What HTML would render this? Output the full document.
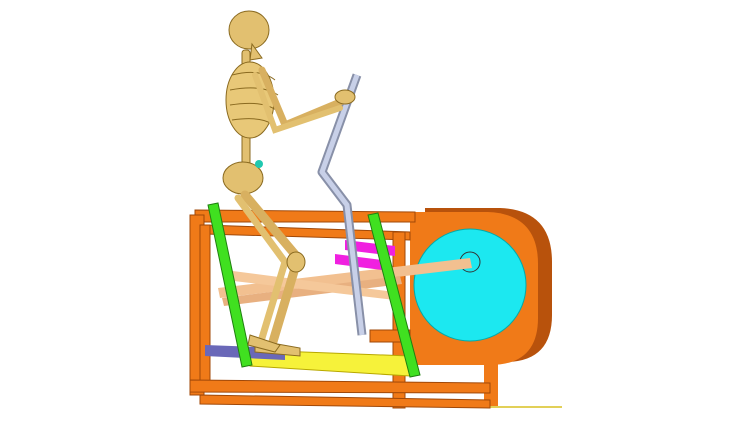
<!DOCTYPE html>
<html><head><meta charset="utf-8"><style>
html,body{margin:0;padding:0;background:#fff;width:730px;height:430px;overflow:hidden}
svg{display:block}
</style></head><body>
<svg width="730" height="430" viewBox="0 0 730 430">
<!-- flywheel housing -->
<g>
<path d="M425 208 L500 208 Q552 210 552 262 L552 315 Q552 362 505 362 L425 362 Z" fill="#b8520c"/>
<path d="M410 212 L488 212 Q538 214 538 264 L538 318 Q538 365 490 365 L410 365 Z" fill="#f07a18"/>
<circle cx="470" cy="285" r="56" fill="#1ce8f0" stroke="#0aa" stroke-width="1"/>
<circle cx="470" cy="262" r="10" fill="none" stroke="#333" stroke-width="1"/>
</g>
<!-- base post -->
<rect x="484" y="360" width="14" height="46" fill="#f07a18"/>
<line x1="490" y1="407" x2="562" y2="407" stroke="#d8c020" stroke-width="1.5"/>
<!-- frame -->
<g fill="#f07a18" stroke="#a04808" stroke-width="1">
<polygon points="195,210 415,212 415,222 195,222"/>
<polygon points="205,225 410,232 410,240 205,234"/>
<rect x="190" y="215" width="14" height="180"/>
<rect x="200" y="225" width="10" height="165"/>
<rect x="393" y="232" width="12" height="176"/>
<polygon points="190,380 490,383 490,393 190,392"/>
<polygon points="200,395 490,400 490,408 200,404"/>
<rect x="370" y="330" width="40" height="12"/>
</g>
<!-- plates -->
<polygon points="250,350 410,356 410,376 250,366" fill="#f6f23a" stroke="#b8a800"/>
<polygon points="205,345 285,348 285,360 205,356" fill="#6a68b8"/>
<!-- links -->
<polygon points="218,288 470,258 472,268 220,298" fill="#f2c090"/>
<polygon points="222,298 400,276 402,284 224,306" fill="#e8b080"/>
<polygon points="225,270 395,292 395,300 225,280" fill="#f5c89a"/>
<!-- magenta bars -->
<polygon points="345,240 395,246 395,256 345,250" fill="#f020e0"/>
<polygon points="335,254 382,260 382,270 335,264" fill="#f020e0"/>
<!-- green bars -->
<polygon points="208,205 218,203 252,365 242,367" fill="#40e020" stroke="#208010"/>
<polygon points="368,215 378,213 420,375 410,377" fill="#40e020" stroke="#208010"/>
<!-- handlebar -->
<path d="M357 75 L322 172 L347 205 L362 335" fill="none" stroke="#8890a8" stroke-width="9" stroke-linejoin="round"/>
<path d="M357 75 L322 172 L347 205 L362 335" fill="none" stroke="#c8d0e8" stroke-width="5" stroke-linejoin="round"/>
<!-- skeleton -->
<g fill="#e2c070" stroke="#8a6a20" stroke-width="1">
<ellipse cx="249" cy="30" rx="20" ry="19"/>
<path d="M252 44 L262 58 L250 60 Z"/>
<rect x="242" y="50" width="8" height="120" rx="3"/>
<ellipse cx="250" cy="100" rx="24" ry="38" fill="#e8c878"/>
<path d="M232 75 Q260 68 275 80 M230 90 Q262 84 278 95 M230 105 Q262 100 276 110 M232 120 Q260 116 272 124" fill="none"/>
<path d="M262 70 L285 125 L345 100" fill="none" stroke="#d8b060" stroke-width="7" stroke-linecap="round"/>
<path d="M255 75 L275 130 L340 108" fill="none" stroke="#e2c070" stroke-width="6" stroke-linecap="round"/>
<ellipse cx="345" cy="97" rx="10" ry="7"/>
<ellipse cx="243" cy="178" rx="20" ry="16"/>
<circle cx="259" cy="164" r="4" fill="#20c8b0" stroke="none"/>
<path d="M245 195 L298 258 L272 345" fill="none" stroke="#d8b060" stroke-width="9" stroke-linecap="round"/>
<path d="M238 198 L285 262 L262 338" fill="none" stroke="#e2c070" stroke-width="7" stroke-linecap="round"/>
<ellipse cx="296" cy="262" rx="9" ry="10"/>
<path d="M255 340 L300 348 L300 356 L255 352 Z"/>
<path d="M250 335 L280 345 L275 352 L248 345 Z"/>
</g>
</svg>
</body></html>
